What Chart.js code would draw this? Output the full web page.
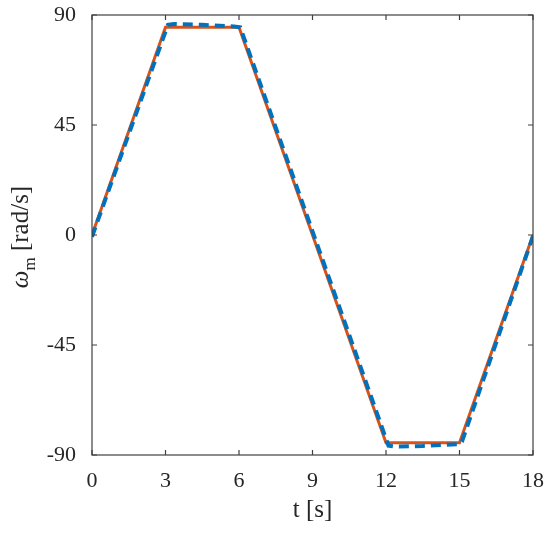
<!DOCTYPE html>
<html>
<head>
<meta charset="utf-8">
<script src="https://cdn.jsdelivr.net/npm/chart.js@4"></script>
<style>
html,body{margin:0;padding:0;background:#fff;}
#wrap{width:550px;height:536px;position:relative;}
</style>
</head>
<body>
<div id="wrap"><canvas id="c" width="550" height="536"></canvas></div>
<script>
// Data
const refT = [0, 3, 6, 12, 15, 18];
const refW = [0, 85, 85, -85, -85, 0];
const simT = [0, 3.1, 3.35, 4.5, 5.8, 6.05, 12.1, 12.4, 13.5, 15.0, 15.1, 18];
const simW = [-0.7, 86.0, 86.3, 86.0, 85.3, 85.0, -86.2, -86.6, -86.3, -85.5, -84.5, -0.5];
const xTicks = [0, 3, 6, 9, 12, 15, 18];
const yTicks = [-90, -45, 0, 45, 90];
const xLabel = 't [s]';
const yLabelSym = 'ω';
const yLabelSub = 'm';
const yLabelUnit = ' [rad/s]';

const AXIS_COLOR = '#404040';
const TEXT_COLOR = '#262626';
const FONT = '"Liberation Serif"';

const pts = (xs, ys) => xs.map((x, i) => ({x: x, y: ys[i]}));
const zeroPad = s => { s.paddingLeft = 0; s.paddingRight = 0; s.paddingTop = 0; s.paddingBottom = 0; };

const boxPlugin = {
  id: 'box',
  afterDatasetsDraw(chart) {
    const {ctx, chartArea: a, scales} = chart;
    ctx.save();
    ctx.strokeStyle = AXIS_COLOR;
    ctx.lineWidth = 1.2;
    ctx.strokeRect(a.left, a.top, a.right - a.left, a.bottom - a.top);
    const L = 5;
    ctx.beginPath();
    xTicks.forEach(v => {
      const px = scales.x.getPixelForValue(v);
      ctx.moveTo(px, a.bottom); ctx.lineTo(px, a.bottom - L);
      ctx.moveTo(px, a.top); ctx.lineTo(px, a.top + L);
    });
    yTicks.forEach(v => {
      const py = scales.y.getPixelForValue(v);
      ctx.moveTo(a.left, py); ctx.lineTo(a.left + L, py);
      ctx.moveTo(a.right, py); ctx.lineTo(a.right - L, py);
    });
    ctx.stroke();
    const cy = (a.top + a.bottom) / 2 + 2;
    ctx.fillStyle = TEXT_COLOR;
    ctx.translate(28, cy);
    ctx.rotate(-Math.PI / 2);
    ctx.textBaseline = 'alphabetic';
    ctx.textAlign = 'left';
    const fMain = '25px ' + FONT;
    const fIt = 'italic 25px ' + FONT;
    const fSub = '17px ' + FONT;
    ctx.font = fIt; const w1 = ctx.measureText(yLabelSym).width;
    ctx.font = fSub; const w2 = ctx.measureText(yLabelSub).width;
    ctx.font = fMain; const w3 = ctx.measureText(yLabelUnit).width;
    let x0 = -(w1 + w2 + w3) / 2;
    ctx.font = fIt; ctx.fillText(yLabelSym, x0, 0); x0 += w1;
    ctx.font = fSub; ctx.fillText(yLabelSub, x0, 7); x0 += w2;
    ctx.font = fMain; ctx.fillText(yLabelUnit, x0, 0);
    ctx.restore();
  }
};

new Chart(document.getElementById('c'), {
  type: 'line',
  data: {
    datasets: [
      {label: 'reference', data: pts(refT, refW), borderColor: '#D95319', borderWidth: 3,
       pointRadius: 0, tension: 0, fill: false, order: 1},
      {label: 'measured', data: pts(simT, simW), borderColor: '#0072BD', borderWidth: 4,
       borderDash: [10, 6], pointRadius: 0, tension: 0, fill: false, order: 0}
    ]
  },
  options: {
    responsive: false,
    animation: false,
    devicePixelRatio: 1,
    layout: {padding: {top: 15, right: 17, left: 0, bottom: 0}},
    plugins: {legend: {display: false}, tooltip: {enabled: false}},
    scales: {
      x: {
        type: 'linear', min: 0, max: 18,
        afterBuildTicks: s => { s.ticks = xTicks.map(v => ({value: v})); },
        afterFit: s => { s.height = 81; zeroPad(s); },
        grid: {display: false}, border: {display: false},
        ticks: {color: TEXT_COLOR, font: {family: FONT, size: 22, lineHeight: 1}, padding: 7, maxRotation: 0},
        title: {display: true, text: xLabel, color: TEXT_COLOR,
                font: {family: FONT, size: 25, lineHeight: 1.2}, padding: {top: 0, bottom: 11}}
      },
      y: {
        type: 'linear', min: -90, max: 90,
        afterBuildTicks: s => { s.ticks = yTicks.map(v => ({value: v})); },
        afterFit: s => { s.width = 92; zeroPad(s); },
        grid: {display: false}, border: {display: false},
        ticks: {color: TEXT_COLOR, font: {family: FONT, size: 22}, padding: 8}
      }
    }
  },
  plugins: [boxPlugin]
});
</script>
</body>
</html>
